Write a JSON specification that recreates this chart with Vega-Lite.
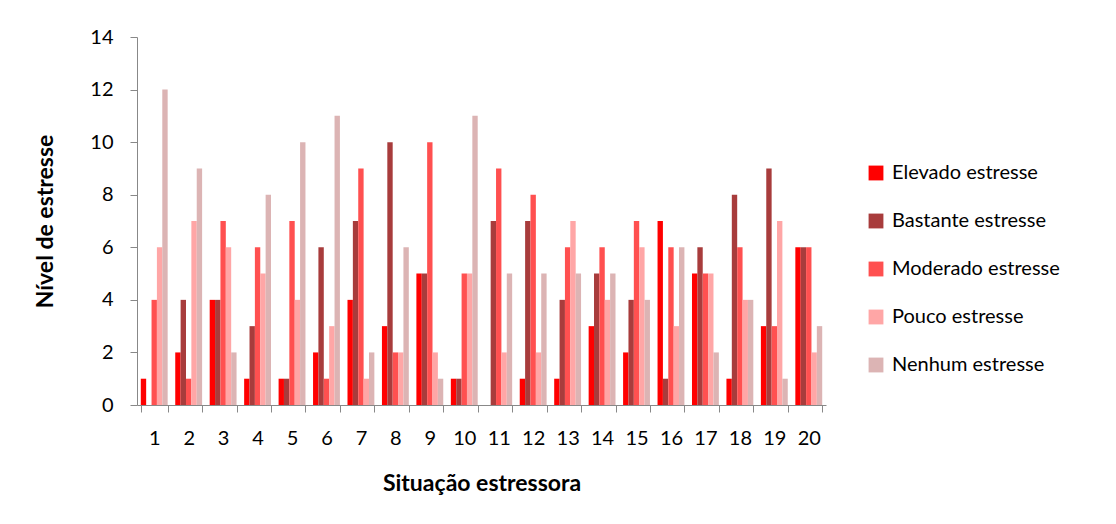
{
  "$schema": "https://vega.github.io/schema/vega-lite/v6.json",
  "width": 689,
  "height": 368,
  "autosize": "none",
  "padding": {"left": 137, "top": 37, "right": 290, "bottom": 119},
  "background": "white",
  "config": {
    "font": "Lato",
    "view": {"stroke": null},
    "axis": {"domainColor": "#888888", "tickColor": "#888888", "labelColor": "#000000", "titleColor": "#000000", "grid": false}
  },
  "datasets": {
    "raw": [
      {"s": 1, "Elevado estresse": 1, "Bastante estresse": 0, "Moderado estresse": 4, "Pouco estresse": 6, "Nenhum estresse": 12},
      {"s": 2, "Elevado estresse": 2, "Bastante estresse": 4, "Moderado estresse": 1, "Pouco estresse": 7, "Nenhum estresse": 9},
      {"s": 3, "Elevado estresse": 4, "Bastante estresse": 4, "Moderado estresse": 7, "Pouco estresse": 6, "Nenhum estresse": 2},
      {"s": 4, "Elevado estresse": 1, "Bastante estresse": 3, "Moderado estresse": 6, "Pouco estresse": 5, "Nenhum estresse": 8},
      {"s": 5, "Elevado estresse": 1, "Bastante estresse": 1, "Moderado estresse": 7, "Pouco estresse": 4, "Nenhum estresse": 10},
      {"s": 6, "Elevado estresse": 2, "Bastante estresse": 6, "Moderado estresse": 1, "Pouco estresse": 3, "Nenhum estresse": 11},
      {"s": 7, "Elevado estresse": 4, "Bastante estresse": 7, "Moderado estresse": 9, "Pouco estresse": 1, "Nenhum estresse": 2},
      {"s": 8, "Elevado estresse": 3, "Bastante estresse": 10, "Moderado estresse": 2, "Pouco estresse": 2, "Nenhum estresse": 6},
      {"s": 9, "Elevado estresse": 5, "Bastante estresse": 5, "Moderado estresse": 10, "Pouco estresse": 2, "Nenhum estresse": 1},
      {"s": 10, "Elevado estresse": 1, "Bastante estresse": 1, "Moderado estresse": 5, "Pouco estresse": 5, "Nenhum estresse": 11},
      {"s": 11, "Elevado estresse": 0, "Bastante estresse": 7, "Moderado estresse": 9, "Pouco estresse": 2, "Nenhum estresse": 5},
      {"s": 12, "Elevado estresse": 1, "Bastante estresse": 7, "Moderado estresse": 8, "Pouco estresse": 2, "Nenhum estresse": 5},
      {"s": 13, "Elevado estresse": 1, "Bastante estresse": 4, "Moderado estresse": 6, "Pouco estresse": 7, "Nenhum estresse": 5},
      {"s": 14, "Elevado estresse": 3, "Bastante estresse": 5, "Moderado estresse": 6, "Pouco estresse": 4, "Nenhum estresse": 5},
      {"s": 15, "Elevado estresse": 2, "Bastante estresse": 4, "Moderado estresse": 7, "Pouco estresse": 6, "Nenhum estresse": 4},
      {"s": 16, "Elevado estresse": 7, "Bastante estresse": 1, "Moderado estresse": 6, "Pouco estresse": 3, "Nenhum estresse": 6},
      {"s": 17, "Elevado estresse": 5, "Bastante estresse": 6, "Moderado estresse": 5, "Pouco estresse": 5, "Nenhum estresse": 2},
      {"s": 18, "Elevado estresse": 1, "Bastante estresse": 8, "Moderado estresse": 6, "Pouco estresse": 4, "Nenhum estresse": 4},
      {"s": 19, "Elevado estresse": 3, "Bastante estresse": 9, "Moderado estresse": 3, "Pouco estresse": 7, "Nenhum estresse": 1},
      {"s": 20, "Elevado estresse": 6, "Bastante estresse": 6, "Moderado estresse": 6, "Pouco estresse": 2, "Nenhum estresse": 3}
    ]
  },
  "data": {"name": "raw"},
  "transform": [
    {"fold": ["Elevado estresse", "Bastante estresse", "Moderado estresse", "Pouco estresse", "Nenhum estresse"], "as": ["serie", "valor"]}
  ],
  "mark": {"type": "bar", "width": {"band": 1}},
  "encoding": {
    "x": {
      "field": "s", "type": "ordinal",
      "scale": {"paddingInner": 0.22, "paddingOuter": 0.11},
      "axis": {"title": "Situação estressora", "labelAngle": 0, "labelFontSize": 20, "titleFontSize": 23, "titleFontWeight": "bold", "tickBand": "extent", "tickSize": 7, "labelPadding": 16, "titlePadding": 24}
    },
    "xOffset": {
      "field": "serie", "type": "nominal",
      "sort": ["Elevado estresse", "Bastante estresse", "Moderado estresse", "Pouco estresse", "Nenhum estresse"],
      "scale": {"paddingInner": 0, "paddingOuter": 0}
    },
    "y": {
      "field": "valor", "type": "quantitative",
      "scale": {"domain": [0, 14]},
      "axis": {"title": "Nível de estresse", "values": [0, 2, 4, 6, 8, 10, 12, 14], "labelFontSize": 20, "titleFontSize": 23, "titleFontWeight": "bold", "tickSize": 7, "labelPadding": 17, "titlePadding": 32}
    },
    "color": {
      "field": "serie", "type": "nominal",
      "sort": ["Elevado estresse", "Bastante estresse", "Moderado estresse", "Pouco estresse", "Nenhum estresse"],
      "scale": {"domain": ["Elevado estresse", "Bastante estresse", "Moderado estresse", "Pouco estresse", "Nenhum estresse"], "range": ["#ff0000", "#a83c3c", "#ff5050", "#ffa6a6", "#dcb4b4"]},
      "legend": {"title": null, "orient": "none", "legendX": 729, "legendY": 126, "symbolType": "square", "symbolSize": 220, "labelFontSize": 20, "labelLimit": 400, "labelColor": "#000000", "rowPadding": 28, "symbolStrokeWidth": 0, "labelOffset": 6, "padding": 0}
    }
  }
}
